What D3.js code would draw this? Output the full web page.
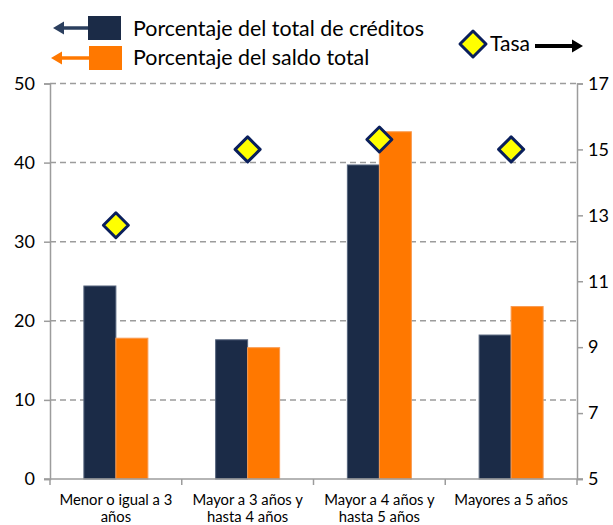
<!DOCTYPE html>
<html>
<head>
<meta charset="utf-8">
<script src="https://cdn.jsdelivr.net/npm/d3@7"></script>
<style>
  body { margin: 0; background: #fff; }
  svg text { font-family: Lato, "Open Sans", sans-serif; fill: #000; }
</style>
</head>
<body>
<svg id="chart" width="613" height="525"></svg>
<script>
// data
var categories = [
  ["Menor o igual a 3", "años"],
  ["Mayor a 3 años y", "hasta 4 años"],
  ["Mayor a 4 años y", "hasta 5 años"],
  ["Mayores a 5 años"]
];
var pctCreditos = [24.4, 17.6, 39.7, 18.2];
var pctSaldo = [17.8, 16.6, 43.9, 21.8];
var tasa = [12.7, 15.0, 15.3, 15.0];
var leftTicks = [0, 10, 20, 30, 40, 50];
var rightTicks = [5, 7, 9, 11, 13, 15, 17];

var svg = d3.select("#chart");
var plotLeft = 50, plotRight = 577, plotTop = 83.5, plotBottom = 479;

var x = d3.scaleBand()
  .domain(d3.range(categories.length))
  .range([plotLeft, plotRight]);
var xInner = d3.scaleBand()
  .domain([0, 1])
  .range([0, 64]);
var y = d3.scaleLinear().domain([0, 50]).range([plotBottom, plotTop]);
var y2 = d3.scaleLinear().domain([5, 17]).range([plotBottom, plotTop]);

var navy = "#1b2b47", orange = "#ff7800", gridc = "#9c9c9c";

// gridlines
svg.append("g")
  .selectAll("line")
  .data(leftTicks.filter(function(d) { return d > 0; }))
  .enter().append("line")
    .attr("x1", plotLeft).attr("x2", plotRight)
    .attr("y1", function(d) { return y(d); })
    .attr("y2", function(d) { return y(d); })
    .attr("stroke", gridc)
    .attr("stroke-width", 1.5)
    .attr("stroke-dasharray", "6,4");

// bars
var groups = svg.append("g")
  .selectAll("g")
  .data(categories)
  .enter().append("g")
    .attr("transform", function(d, i) { return "translate(" + (x(i) + x.bandwidth() / 2 - 32) + ",0)"; });

groups.append("rect")
  .attr("x", xInner(0))
  .attr("width", xInner.bandwidth())
  .attr("y", function(d, i) { return y(pctCreditos[i]); })
  .attr("height", function(d, i) { return plotBottom - y(pctCreditos[i]); })
  .attr("fill", navy)
  .attr("stroke", "#56657d")
  .attr("stroke-width", 1);

groups.append("rect")
  .attr("x", xInner(1))
  .attr("width", xInner.bandwidth())
  .attr("y", function(d, i) { return y(pctSaldo[i]); })
  .attr("height", function(d, i) { return plotBottom - y(pctSaldo[i]); })
  .attr("fill", orange)
  .attr("stroke", "#f99a50")
  .attr("stroke-width", 1);

// axes
var axisLeft = d3.axisLeft(y).tickValues(leftTicks).tickSize(6).tickPadding(9);
var gL = svg.append("g").attr("transform", "translate(" + plotLeft + ",0)").call(axisLeft);
var axisRight = d3.axisRight(y2).tickValues(rightTicks).tickSize(6).tickPadding(5);
var gR = svg.append("g").attr("transform", "translate(" + plotRight + ",0)").call(axisRight);
[gL, gR].forEach(function(g) {
  g.select(".domain").attr("stroke", gridc).attr("stroke-width", 1.5);
  g.selectAll(".tick line").attr("stroke", gridc).attr("stroke-width", 1.5);
  g.selectAll(".tick text").style("font-size", "18px").attr("fill", "#000");
});

// bottom axis
svg.append("line")
  .attr("x1", plotLeft - 6).attr("x2", plotRight + 6)
  .attr("y1", plotBottom).attr("y2", plotBottom)
  .attr("stroke", gridc).attr("stroke-width", 1.5);
svg.append("g")
  .selectAll("line")
  .data(d3.range(categories.length + 1))
  .enter().append("line")
    .attr("x1", function(d) { return plotLeft + d * x.step(); })
    .attr("x2", function(d) { return plotLeft + d * x.step(); })
    .attr("y1", plotBottom).attr("y2", plotBottom + 6)
    .attr("stroke", gridc).attr("stroke-width", 1.5);

var catText = svg.append("g")
  .selectAll("text")
  .data(categories)
  .enter().append("text")
    .attr("text-anchor", "middle")
    .style("font-size", "14.8px")
    .attr("x", function(d, i) { return x(i) + x.bandwidth() / 2; })
    .attr("y", 505);
catText.selectAll("tspan")
  .data(function(d) { return d; })
  .enter().append("tspan")
    .attr("x", function() { return d3.select(this.parentNode).attr("x"); })
    .attr("dy", function(d, j) { return j === 0 ? 0 : 17; })
    .text(function(d) { return d; });

// diamonds
function diamond(sel, cx, cy, r) {
  sel.append("path")
    .attr("d", "M" + cx + "," + (cy - r) + "L" + (cx + r) + "," + cy + "L" + cx + "," + (cy + r) + "L" + (cx - r) + "," + cy + "Z")
    .attr("fill", "#ffff00")
    .attr("stroke", "#0a1f5c")
    .attr("stroke-width", 3)
    .attr("stroke-linejoin", "round");
}
var gD = svg.append("g");
tasa.forEach(function(v, i) {
  diamond(gD, x(i) + x.bandwidth() / 2, y2(v), 12.5);
});

// legend
var leg = svg.append("g");
// arrow from x1 to x2, head at x2
function arrow(g, x1, x2, yy, color, w, head) {
  var dir = x2 > x1 ? 1 : -1;
  g.append("line").attr("x1", x1).attr("x2", x2 - dir * head).attr("y1", yy).attr("y2", yy)
    .attr("stroke", color).attr("stroke-width", w);
  g.append("path")
    .attr("d", "M" + x2 + "," + yy + "L" + (x2 - dir * head) + "," + (yy - 6.5) + "L" + (x2 - dir * head) + "," + (yy + 6.5) + "Z")
    .attr("fill", color);
}
leg.append("rect").attr("x", 88).attr("y", 16).attr("width", 33).attr("height", 24).attr("fill", navy);
leg.append("rect").attr("x", 89).attr("y", 46).attr("width", 33).attr("height", 24).attr("fill", orange);
arrow(leg, 88, 53, 28, "#2b3f5e", 3.5, 11);
arrow(leg, 89, 51, 58, orange, 3.5, 11);
leg.append("text").attr("x", 133).attr("y", 36).style("font-size", "21.4px").text("Porcentaje del total de créditos");
leg.append("text").attr("x", 133).attr("y", 65).style("font-size", "21.4px").text("Porcentaje del saldo total");
diamond(leg, 473, 44, 13);
leg.append("text").attr("x", 490).attr("y", 51).style("font-size", "21px").text("Tasa");
arrow(leg, 535, 583, 46, "#000", 4, 11);
</script>
</body>
</html>
